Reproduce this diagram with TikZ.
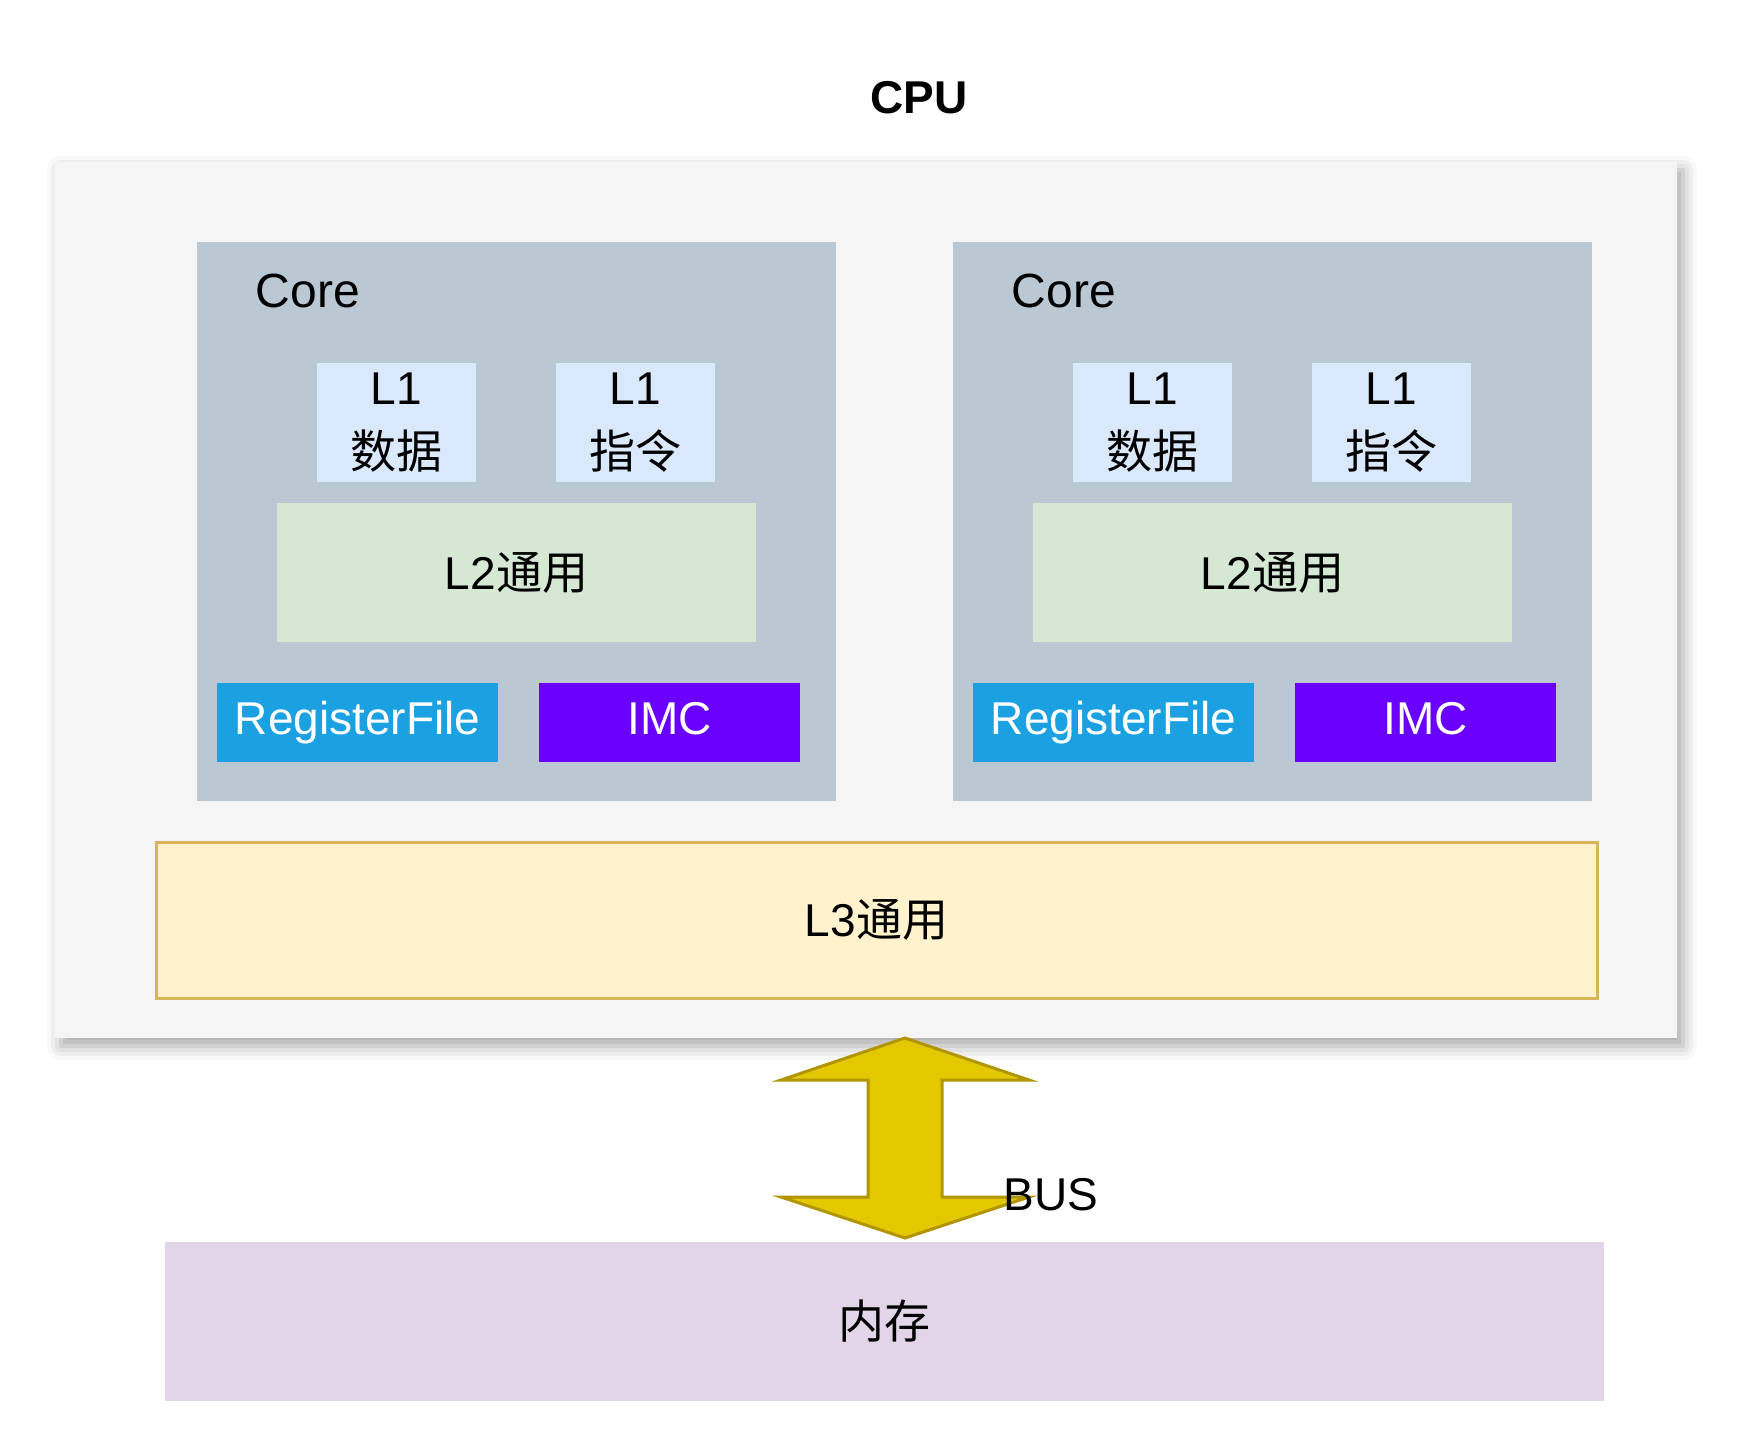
\documentclass[tikz,border=0pt]{standalone}
\usepackage{fontspec}
\setmainfont{Liberation Sans}
\newfontfamily\cjk{Noto Sans CJK SC}
\usetikzlibrary{calc,shadows.blur}
\definecolor{cpuBg}{HTML}{F5F5F5}
\definecolor{coreBg}{HTML}{BAC8D3}
\definecolor{lOneBg}{HTML}{DAE8FC}
\definecolor{lTwoBg}{HTML}{D5E8D4}
\definecolor{regBg}{HTML}{1BA1E2}
\definecolor{imcBg}{HTML}{6A00FF}
\definecolor{lThreeBg}{HTML}{FFF2CC}
\definecolor{lThreeLine}{HTML}{D6B656}
\definecolor{memBg}{HTML}{E1D5E7}
\definecolor{busFill}{HTML}{E3C800}
\definecolor{busLine}{HTML}{B09500}

\begin{document}
\begin{tikzpicture}[x=0.5pt,y=-0.5pt,font=\fontsize{23}{32}\selectfont,
 box/.style={anchor=north west,inner sep=0pt,outer sep=0pt,align=center},
 lonebox/.style={box,fill=lOneBg,minimum width=79.5pt,minimum height=59.5pt},
 unitbox/.style={anchor=north west,inner sep=0pt,outer sep=0pt,text=white,minimum height=39.5pt,text height=16.5pt,text depth=5pt},
 busarrow/.style={fill=busFill,draw=busLine,line width=1.5pt,line join=miter}]
\path[use as bounding box] (0,0) rectangle (1744,1440);
\node[font=\fontsize{23}{28}\selectfont\bfseries] (title) at (919,98) {CPU};
\node[box,fill=cpuBg,minimum width=811pt,minimum height=438pt,
 blur shadow={shadow xshift=3pt,shadow yshift=-4pt,shadow blur radius=7pt,shadow opacity=35}] (cpu) at (55,162) {};
\foreach \i/\dx in {1/0,2/756}{
 \node[box,fill=coreBg,minimum width=319.5pt,minimum height=279.5pt] (core\i) at (197+\dx,242) {};
 \node[font=\fontsize{24}{28}\selectfont] (corelbl\i) at (308+\dx,291) {Core};
 \node[lonebox] (ldata\i) at (317+\dx,363) {L1\\{\cjk 数据}};
 \node[lonebox] (linstr\i) at (556+\dx,363) {L1\\{\cjk 指令}};
 \node[box,fill=lTwoBg,minimum width=239.5pt,minimum height=69.5pt] (ltwo\i) at (277+\dx,503) {L2{\cjk 通用}};
 \node[unitbox,fill=regBg,minimum width=140.5pt] (reg\i) at (217+\dx,683) {RegisterFile};
 \node[unitbox,fill=imcBg,minimum width=130.5pt] (imc\i) at (539+\dx,683) {IMC};
}
\node[box,fill=lThreeBg,draw=lThreeLine,line width=1.5pt,minimum width=720.5pt,minimum height=78pt] (lthree) at (156,842) {L3{\cjk 通用}};
\node[box,fill=memBg,minimum width=719.5pt,minimum height=79.5pt] (mem) at (165,1242) {{\cjk 内存}};
% double arrow between cpu and memory
\coordinate (bustop) at ([xshift=19.5pt]cpu.south);
\coordinate (busbot) at ($(bustop |- mem.north)+(0,-4)$);
\draw[busarrow] (bustop) -- ++(124,42) -- ++(-87,0) -- ($(busbot)+(37,-41)$) -- ++(87,0) -- (busbot)
 -- ++(-124,-41) -- ++(87,0) -- ($(bustop)+(-37,42)$) -- ++(-87,0) -- cycle;
\node (buslbl) at (1051,1195) {BUS};
\end{tikzpicture}
\end{document}
